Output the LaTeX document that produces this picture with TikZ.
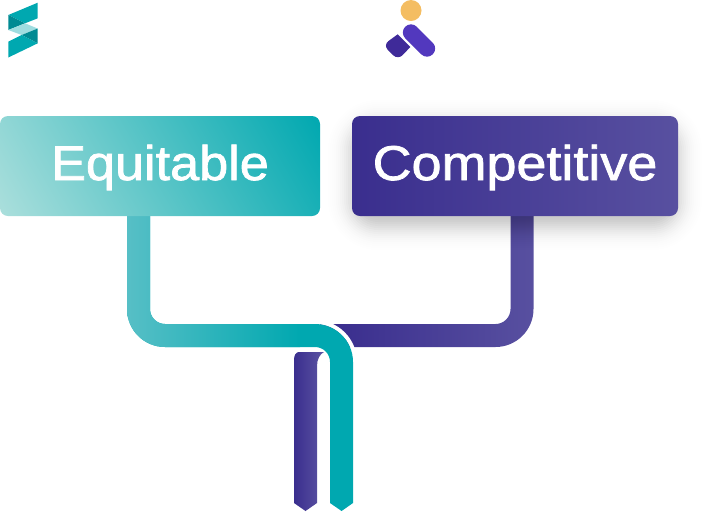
\documentclass[tikz,border=0pt]{standalone}
\usepackage{fontspec}
\newfontfamily\labfontA[FakeBold=1.5,FakeStretch=1.07]{Liberation Sans}
\newfontfamily\labfontB[FakeBold=1.5,FakeStretch=1.105]{Liberation Sans}
\definecolor{tealA}{HTML}{00A8B0}
\definecolor{tealB}{HTML}{57BFC6}
\definecolor{tealC}{HTML}{ABDFDC}
\definecolor{tealD}{HTML}{008A93}
\definecolor{tealE}{HTML}{9FDDE0}
\definecolor{purA}{HTML}{3A2E8E}
\definecolor{purB}{HTML}{5850A0}
\definecolor{purC}{HTML}{5D55A3}
\definecolor{logoP}{HTML}{5238BE}
\definecolor{logoQ}{HTML}{3F2A99}
\definecolor{logoO}{HTML}{F4BD62}
\tikzset{
  boxstyle/.style={rectangle,rounded corners=6pt,minimum width=#1*0.75pt,minimum height=75pt,inner sep=0pt,
    text=white,text height=21pt,text depth=0pt},
}
\begin{document}
\begin{tikzpicture}[x=0.75pt,y=-0.75pt]
\useasboundingbox (0,0) rectangle (710,512);
\coordinate (eqc) at (160,166);
\coordinate (coc) at (515,166);
% purple right pipe
\def\purright{(533.5,216) -- (533.5,309) arc[start angle=0,end angle=90,radius=38] -- (320,347) -- (320,324) -- (495.5,324) arc[start angle=90,end angle=0,radius=15] -- (510.5,216) -- cycle}
\begin{scope}
\clip \purright;
\shade[left color=purA,right color=purB] (335,210) rectangle (534,350);
\fill[purA] (315,210) rectangle (335.5,350);
\end{scope}
% shadow of the competitive box
\foreach \i in {-26,-24,...,30}{
  \pgfmathsetmacro\op{0.02*exp(-(\i/16)^2)}
  \pgfmathsetmacro\rad{max(6,0.75*(\i+26))}
  \fill[black,fill opacity=\op,rounded corners=\rad pt] (352-\i,124-\i) rectangle (678+\i,226+\i);
}
% purple down pipe
\shade[left color=purA,right color=purC]
  (294,360) .. controls (294,355) and (296,352) .. (299,352) -- (324,352)
  .. controls (320,354) and (317,359) .. (317,366) -- (317,503) -- (305.5,511) -- (294,503) -- cycle;
% halo
\draw[white,line width=3pt] (315,322) arc[start angle=-90,end angle=0,radius=40];
\fill[white] (353,360) rectangle (357,370);
% teal pipe
\def\tealpipe{(127,216) -- (127,309) arc[start angle=180,end angle=90,radius=38] -- (315,347) arc[start angle=-90,end angle=0,radius=15] -- (330,503) -- (341.6,511) -- (353,503) -- (353,362) arc[start angle=0,end angle=-90,radius=38] -- (165,324) arc[start angle=90,end angle=180,radius=15] -- (150,216) -- cycle}
\fill[tealA] \tealpipe;
\begin{scope}
\clip \tealpipe;
\shade[left color=tealB,right color=tealA] (127,210) rectangle (300,350);
\end{scope}
% boxes
\begin{scope}
\clip[rounded corners=6pt] (0,116) rectangle (320,216);
\begin{scope}[transform canvas={rotate around={30:(eqc)}}]
\shade[left color=tealC,right color=tealA] (-3.5,-84) rectangle (323.5,416);
\end{scope}
\end{scope}
\node[boxstyle=320,font=\labfontA\fontsize{36.6pt}{40pt}\selectfont] (eq) at (eqc) {Equitable};
\node[boxstyle=326,left color=purA,right color=purB,font=\labfontB\fontsize{36.6pt}{40pt}\selectfont] (co) at (coc) {Competitive};
% logo one
\fill[tealA] (8.3,15) -- (37.7,2.7) -- (37.7,18.3) -- (25,23.3) -- cycle;
\fill[tealD] (8.3,15) -- (8.3,30) -- (25,23.3) -- cycle;
\fill[tealE] (8.3,30) -- (25,23.3) -- (37.7,28.5) -- (21.7,35) -- cycle;
\fill[tealD] (37.7,28.5) -- (37.7,43.3) -- (21.7,35) -- cycle;
\fill[tealA] (8.3,41.7) -- (21.7,35) -- (37.7,43.3) -- (8.3,57.5) -- cycle;
% logo two
\fill[logoO] (411,10.5) circle[radius=10.5];
\fill[logoP,rounded corners=6pt] (411,21) -- (438.5,48.5) -- (427,60) -- (399.5,32.5) -- cycle;
\fill[logoQ] (397.7,34.3) -- (410.3,47) [rounded corners=5pt] -- (398,60) -- (383,45) [sharp corners] -- cycle;
\end{tikzpicture}
\end{document}
